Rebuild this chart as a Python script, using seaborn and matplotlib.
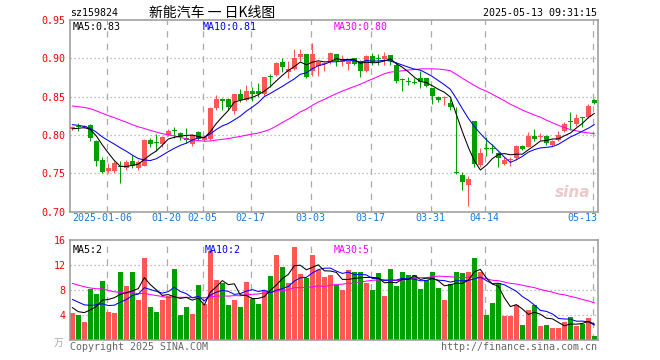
import numpy as np
import pandas as pd
import seaborn as sns
from matplotlib import pyplot as plt

code = 'sz159824'
title = '新能汽车 一 日K线图'
stamp = '2025-05-13 09:31:15'

# 88 trading days, 2024-12-26 .. 2025-05-13
open_ = [0.808, 0.811, 0.810, 0.813, 0.792, 0.768, 0.753, 0.753, 0.760, 0.757,
         0.766, 0.757, 0.760, 0.794, 0.791, 0.788, 0.800, 0.806, 0.802, 0.796,
         0.788, 0.804, 0.794, 0.795, 0.835, 0.847, 0.847, 0.831, 0.853, 0.846,
         0.857, 0.858, 0.853, 0.877, 0.878, 0.895, 0.882, 0.886, 0.902, 0.906,
         0.883, 0.890, 0.892, 0.895, 0.906, 0.895, 0.893, 0.900, 0.897, 0.884,
         0.903, 0.900, 0.899, 0.904, 0.891, 0.873, 0.870, 0.869, 0.874, 0.874,
         0.861, 0.850, 0.848, 0.842, 0.752, 0.748, 0.735, 0.818, 0.761, 0.783,
         0.783, 0.777, 0.762, 0.767, 0.770, 0.786, 0.785, 0.799, 0.797, 0.799,
         0.787, 0.794, 0.805, 0.818, 0.815, 0.823, 0.824, 0.846]
high = [0.812, 0.816, 0.813, 0.814, 0.793, 0.771, 0.764, 0.766, 0.766, 0.768,
        0.774, 0.768, 0.795, 0.796, 0.801, 0.799, 0.808, 0.810, 0.804, 0.809,
        0.801, 0.805, 0.800, 0.837, 0.852, 0.848, 0.848, 0.854, 0.860, 0.865,
        0.862, 0.868, 0.876, 0.879, 0.895, 0.900, 0.897, 0.912, 0.912, 0.906,
        0.920, 0.896, 0.895, 0.908, 0.906, 0.904, 0.898, 0.901, 0.898, 0.904,
        0.907, 0.906, 0.908, 0.905, 0.895, 0.874, 0.876, 0.874, 0.884, 0.874,
        0.861, 0.851, 0.851, 0.847, 0.836, 0.752, 0.746, 0.818, 0.783, 0.797,
        0.788, 0.778, 0.771, 0.771, 0.787, 0.787, 0.8035, 0.808, 0.803, 0.800,
        0.794, 0.805, 0.817, 0.830, 0.827, 0.823, 0.840, 0.847]
low = [0.806, 0.805, 0.809, 0.792, 0.759, 0.751, 0.751, 0.750, 0.738, 0.755,
       0.757, 0.755, 0.759, 0.785, 0.779, 0.785, 0.799, 0.796, 0.794, 0.790,
       0.786, 0.793, 0.792, 0.794, 0.832, 0.833, 0.832, 0.827, 0.843, 0.845,
       0.844, 0.849, 0.851, 0.863, 0.877, 0.882, 0.875, 0.885, 0.897, 0.875,
       0.877, 0.877, 0.884, 0.893, 0.890, 0.890, 0.885, 0.891, 0.876, 0.882,
       0.891, 0.891, 0.891, 0.891, 0.868, 0.857, 0.865, 0.866, 0.861, 0.862,
       0.841, 0.843, 0.839, 0.833, 0.749, 0.728, 0.7075, 0.758, 0.758, 0.773,
       0.777, 0.758, 0.761, 0.760, 0.767, 0.781, 0.784, 0.792, 0.794, 0.787,
       0.786, 0.792, 0.8035, 0.807, 0.812, 0.811, 0.822, 0.840]
close = [0.810, 0.810, 0.812, 0.796, 0.766, 0.752, 0.757, 0.763, 0.758, 0.765,
         0.759, 0.765, 0.794, 0.788, 0.790, 0.797, 0.805, 0.805, 0.797, 0.793,
         0.800, 0.795, 0.798, 0.835, 0.847, 0.844, 0.836, 0.853, 0.846, 0.857,
         0.853, 0.854, 0.876, 0.876, 0.894, 0.889, 0.886, 0.901, 0.906, 0.876,
         0.906, 0.895, 0.894, 0.907, 0.896, 0.899, 0.897, 0.893, 0.883, 0.903,
         0.895, 0.899, 0.903, 0.897, 0.871, 0.872, 0.869, 0.868, 0.869, 0.864,
         0.851, 0.846, 0.849, 0.837, 0.751, 0.739, 0.743, 0.762, 0.777, 0.782,
         0.782, 0.770, 0.768, 0.769, 0.786, 0.782, 0.799, 0.795, 0.799, 0.789,
         0.792, 0.800, 0.815, 0.817, 0.822, 0.822, 0.838, 0.842]
vol = [4.37, 4.0, 2.93, 8.16, 7.36, 9.44, 4.53, 4.32, 10.88, 8.64,
       10.88, 6.4, 13.12, 5.28, 4.48, 6.4, 7.04, 11.36, 4.0, 5.28,
       4.16, 8.8, 5.76, 14.24, 9.6, 9.12, 5.6, 6.4, 5.28, 9.28,
       6.56, 5.76, 7.84, 10.24, 13.6, 11.68, 9.12, 14.88, 10.56, 9.92,
       13.6, 11.2, 10.08, 10.4, 8.8, 8.0, 11.2, 10.88, 10.88, 9.12,
       8.0, 10.72, 7.04, 11.36, 8.64, 10.88, 10.4, 10.4, 8.16, 9.6,
       10.88, 8.32, 6.4, 8.96, 10.88, 10.72, 10.88, 13.12, 10.88, 4.0,
       5.92, 9.12, 3.84, 3.84, 5.6, 2.4, 4.8, 5.6, 2.24, 2.4,
       1.92, 1.92, 2.88, 3.68, 2.24, 2.56, 3.52, 0.64]  # 万

# sessions before the window, backed out of where the MA lines start
prev_close = [0.838, 0.842, 0.845, 0.848, 0.846, 0.850, 0.844, 0.848, 0.852, 0.855,
              0.850, 0.858, 0.862, 0.856, 0.860, 0.852, 0.848, 0.855, 0.850, 0.842,
              0.819, 0.825, 0.822, 0.815, 0.814, 0.806, 0.808, 0.807, 0.809]
prev_vol = [12.5, 10.8, 14.2, 11.0, 9.6, 12.8, 10.4, 13.5, 11.2, 9.8,
            12.0, 10.5, 11.6, 9.2, 10.9, 12.4, 8.8, 5.6, 4.8, 5.5,
            8.4, 7.2, 9.0, 6.6, 7.8, 7.3, 3.7, 6.0, 4.6]

tick_idx = [6, 16, 22, 30, 40, 50, 60, 69, 87]
tick_lbl = ['2025-01-06', '01-20', '02-05', '02-17', '03-03', '03-17', '03-31', '04-14', '05-13']

RED = '#ff5656'
GREEN = '#00a000'
GRID = '#aaaaaa'
W, H = 660, 360

n = len(close)
df = pd.DataFrame({'i': np.arange(n), 'open': open_, 'high': high, 'low': low,
                   'close': close, 'vol': vol})
df['dir'] = np.where(df['close'] >= df['open'], 'up', 'down')

allc = pd.Series(prev_close + close)
allv = pd.Series(prev_vol + vol)
k = len(prev_close)
for m in (5, 10, 30):
    df[f'ma{m}'] = allc.rolling(m).mean().values[k:]
    df[f'vma{m}'] = allv.rolling(m).mean().values[k:]

sns.set_theme(style='white')
plt.rcParams['font.family'] = ['DejaVu Sans Mono', 'Noto Sans CJK SC']
mono = 7.2
lw = 0.75

fig = plt.figure(figsize=(W / 100, H / 100), dpi=100)
fig.patch.set_facecolor('white')
ax = fig.add_axes([70 / W, 1 - 211.7 / H, 528 / W, 191.7 / H])
axv = fig.add_axes([70 / W, 1 - 340 / H, 528 / W, 100 / H])

x0, x1 = -0.38, 87.6
gx = [t - 0.27 for t in tick_idx]

for a in (ax, axv):
    a.set_facecolor('white')
    for s in a.spines.values():
        s.set_color('#999999')
        s.set_linewidth(1.1)
    for g in gx:
        a.axvline(g, color=GRID, lw=0.9, ls=(0, (5, 5)), zorder=0)

# price panel
for p in (0.75, 0.80, 0.85, 0.90):
    ax.axhline(p, color=GRID, lw=0.9, ls=(0, (1, 2.2)), zorder=0)

colors = np.where(df['dir'] == 'up', RED, GREEN)
ax.vlines(df['i'], df['low'], df['high'], colors=colors, lw=lw, zorder=2)
body_lo = np.minimum(df['open'], df['close'])
body_h = np.maximum((df['close'] - df['open']).abs(), 0.0013)
ax.bar(df['i'], body_h, bottom=body_lo, width=0.8, color=colors, lw=0, zorder=3)

for col, c in (('ma30', '#ff00ff'), ('ma10', '#0000ff'), ('ma5', 'black')):
    sns.lineplot(data=df, x='i', y=col, color=c, lw=lw, ax=ax, zorder=4)

ax.set_xlim(x0, x1)
ax.set_ylim(0.70, 0.95)
ax.set_yticks([0.70, 0.75, 0.80, 0.85, 0.90, 0.95])
ax.set_yticklabels(['0.70', '0.75', '0.80', '0.85', '0.90', '0.95'],
                   color='#ff0000', fontsize=mono)
ax.set_xticks([])
ax.tick_params(axis='y', length=0, pad=3)
ax.set_xlabel('')
ax.set_ylabel('')

for j, (g, lbl) in enumerate(zip(gx, tick_lbl)):
    if j == 0:
        xx, ha = x0 + 0.3, 'left'
    elif j == len(gx) - 1:
        xx, ha = x1 - 0.1, 'right'
    else:
        xx, ha = g, 'center'
    ax.text(xx, -0.035, lbl, transform=ax.get_xaxis_transform(), ha=ha, va='center',
            color='#1e78d2', fontsize=mono)

ax.text(0.0045, 0.965, f"MA5:{df['ma5'].iloc[-1]:.2f}", transform=ax.transAxes,
        ha='left', va='center', fontsize=mono, color='black')
ax.text(0.251, 0.965, f"MA10:{df['ma10'].iloc[-1]:.2f}", transform=ax.transAxes,
        ha='left', va='center', fontsize=mono, color='#0000ff')
ax.text(0.5, 0.965, f"MA30:{df['ma30'].iloc[-1]:.2f}", transform=ax.transAxes,
        ha='left', va='center', fontsize=mono, color='#ff00ff')
ax.text(0.985, 0.1, 'sina', transform=ax.transAxes, ha='right', va='center',
        fontsize=11, color='#e6bcbc', style='italic', weight='bold',
        family='DejaVu Sans', alpha=0.8)

# volume panel
for v in (4, 8, 12):
    axv.axhline(v, color=GRID, lw=0.9, ls=(0, (1, 2.2)), zorder=0)

sns.barplot(data=df, x='i', y='vol', hue='dir', palette={'up': RED, 'down': GREEN},
            native_scale=True, dodge=False, width=0.8, saturation=1, errorbar=None,
            legend=False, linewidth=0, ax=axv, zorder=2)
for col, c in (('vma30', '#ff00ff'), ('vma10', '#0000ff'), ('vma5', 'black')):
    sns.lineplot(data=df, x='i', y=col, color=c, lw=lw, ax=axv, zorder=4)

axv.set_xlim(x0, x1)
axv.set_ylim(0, 16)
axv.set_yticks([0, 4, 8, 12, 16])
axv.set_yticklabels(['', '4', '8', '12', '16'], color='#ff0000', fontsize=mono)
axv.tick_params(axis='y', length=0, pad=3)
axv.set_xticks([])
axv.set_xlabel('')
axv.set_ylabel('')
axv.text(-0.012, -0.03, '万', transform=axv.transAxes, ha='right', va='center',
         fontsize=7, color='#aaaaaa', family=['Noto Sans CJK SC'])

axv.text(0.0045, 0.9, f"MA5:{int(df['vma5'].iloc[-1])}", transform=axv.transAxes,
         ha='left', va='center', fontsize=mono, color='black')
axv.text(0.255, 0.9, f"MA10:{int(df['vma10'].iloc[-1])}", transform=axv.transAxes,
         ha='left', va='center', fontsize=mono, color='#0000ff')
axv.text(0.5, 0.9, f"MA30:{int(df['vma30'].iloc[-1])}", transform=axv.transAxes,
         ha='left', va='center', fontsize=mono, color='#ff00ff')

# header / footer
fig.text(70 / W, 1 - 13 / H, code, ha='left', va='center', fontsize=mono, color='black')
fig.text(212 / W, 1 - 13 / H, title, ha='center', va='center', fontsize=10,
         color='black', family=['Noto Sans CJK SC', 'DejaVu Sans'])
fig.text(597 / W, 1 - 13 / H, stamp, ha='right', va='center', fontsize=mono, color='black')
fig.text(70 / W, 1 - 347 / H, 'Copyright 2025 SINA.COM', ha='left', va='center',
         fontsize=mono, color='#666666')
fig.text(597 / W, 1 - 347 / H, 'http://finance.sina.com.cn', ha='right', va='center',
         fontsize=mono, color='#666666')

fig.savefig('out.png', dpi=100)
